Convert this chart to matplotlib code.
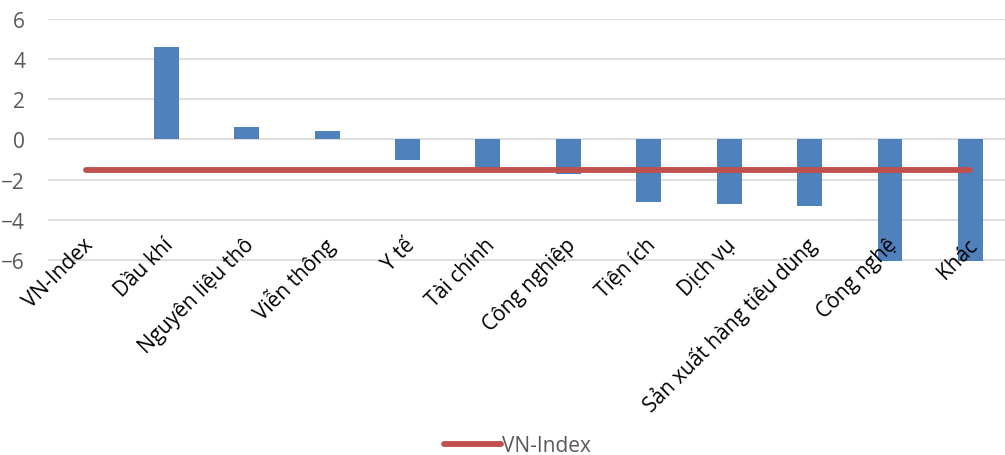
import matplotlib
matplotlib.use('Agg')
import matplotlib.pyplot as plt
import matplotlib.transforms as mtransforms

plt.rcParams['font.family'] = ['Open Sans', 'DejaVu Sans']

categories = ['VN-Index', 'Dầu khí', 'Nguyên liệu thô', 'Viễn thông', 'Y tế',
              'Tài chính', 'Công nghiệp', 'Tiện ích', 'Dịch vụ',
              'Sản xuất hàng tiêu dùng', 'Công nghệ', 'Khác']
sector_change = [0, 4.6, 0.6, 0.4, -1.0, -1.45, -1.7, -3.1, -3.2, -3.3, -6.07, -6.07]
vn_index = [-1.5] * len(categories)

fig = plt.figure(figsize=(10.05, 4.56), dpi=100)
ax = fig.add_axes([48 / 1005, (456 - 263) / 456, 1 - 48 / 1005, 243 / 456])

x = list(range(len(categories)))
ax.bar(x[1:], sector_change[1:], width=0.31, color='#4f81bd', zorder=2)
ax.plot(x, vn_index, color='#c0504d', lw=4.2, solid_capstyle='round',
        label='VN-Index', zorder=3)

ax.set_xlim(-0.47, 11.43)
ax.set_ylim(-6.1, 6)
ax.set_yticks([-6, -4, -2, 0, 2, 4, 6])
ax.grid(axis='y', color='#d9d9d9', lw=1.2, zorder=0)
for s in ax.spines.values():
    s.set_visible(False)
ax.tick_params(axis='y', length=0, pad=16.5, labelsize=15, labelcolor='#595959')
ax.set_xticks(x)
ax.set_xticklabels([])
ax.tick_params(axis='x', length=0)

# category labels, rotated, sitting just above the bottom of the plot
trans = mtransforms.blended_transform_factory(ax.transData, ax.transAxes)
trans = trans + mtransforms.ScaledTranslation(4 / 100, 0, fig.dpi_scale_trans)
for i, name in zip(x, categories):
    ax.text(i, 0.085, name, transform=trans, rotation=45, ha='right', va='center',
            rotation_mode='anchor', fontsize=15, color='black', clip_on=False)

fig.legend(loc='center', bbox_to_anchor=(0.515, 1 - 447 / 456), frameon=False,
           fontsize=15, handlelength=2.7, handletextpad=0.05,
           labelcolor='#595959', borderpad=0)

fig.savefig('out.png', dpi=100)
